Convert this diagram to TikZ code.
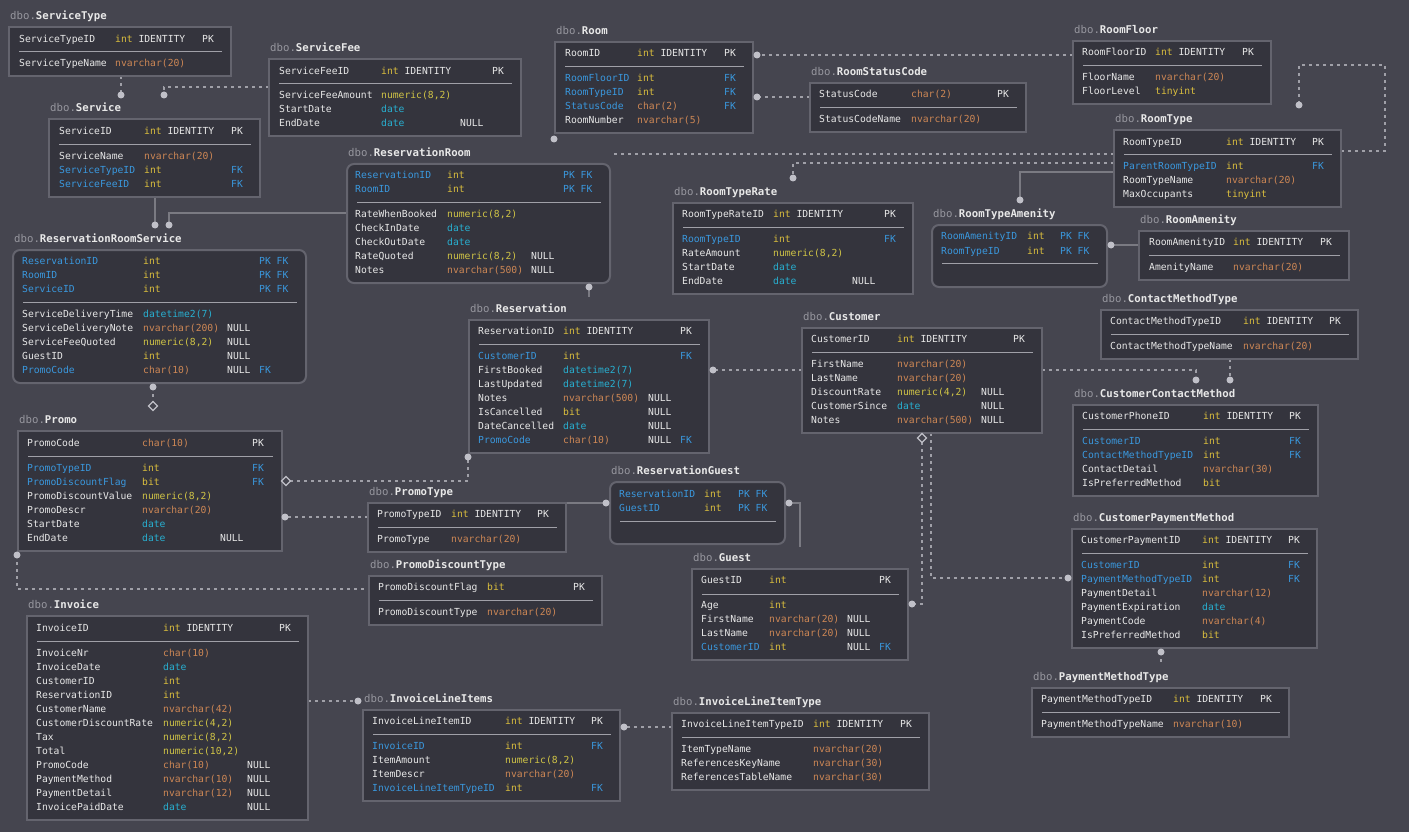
\documentclass[tikz,border=0pt]{standalone}
\usepackage{fontspec}
\usetikzlibrary{fit}
\newfontfamily\monofnt{DejaVu Sans Mono}

\definecolor{bg}{RGB}{69,69,79}
\definecolor{tfill}{RGB}{52,52,61}
\definecolor{tborder}{RGB}{100,100,110}
\definecolor{sepc}{RGB}{160,160,168}
\definecolor{txt}{RGB}{232,232,232}
\definecolor{dbo}{RGB}{150,150,158}
\definecolor{fk}{RGB}{58,152,222}
\definecolor{ylw}{RGB}{218,190,62}
\definecolor{num}{RGB}{208,196,70}
\definecolor{orn}{RGB}{205,135,85}
\definecolor{cyn}{RGB}{40,175,208}
\definecolor{dlink}{RGB}{160,160,168}
\definecolor{slink}{RGB}{122,122,130}
\definecolor{dotc}{RGB}{192,192,200}

% cell counter for automatic node names
\newcounter{cellno}
\newcommand\cellat[4]{\stepcounter{cellno}\edef\cname{cell\arabic{cellno}}%
  \node[cell,text=#3] (\cname) at (#1,#2) {#4};}
% column positions of the current table
\newcommand\cols[4]{\def\cA{#1}\def\cB{#2}\def\cC{#3}\def\cD{#4}}
% one field: y, name colour, name, type colour, type, null, key
\newcommand\fld[7]{%
  \cellat{\cA}{#1}{#2}{#3}%
  \cellat{\cB}{#1}{#4}{#5}%
  \if\relax\detokenize{#6}\relax\else\cellat{\cC}{#1}{txt}{#6}\fi
  \if\relax\detokenize{#7}\relax\else\cellat{\cD}{#1}{txt}{#7}\fi}
% table frame: name, left, top, right, bottom, shape, title, separator y
\newcommand\tbl[8]{%
  \node[tbox,#6,fit={(#2,#3) (#4,#5)}] (#1) {};
  \node[ttl] (#1-title) at (#2+1,#3-11) {\textcolor{dbo}{dbo.}\textbf{#7}};
  \draw[sepline] (#2+10,#8) -- (#4-9,#8);}
\newcommand\intid{int \textcolor{txt}{IDENTITY}}
\newcommand\kfk{\textcolor{fk}{FK}}
\newcommand\kpf{\textcolor{fk}{PK FK}}
\newcommand\jdot[1]{\fill[dotc] (#1) circle[radius=3.5pt];}
\newcommand\diam[1]{\draw[draw=dotc,line width=1.2pt,fill=bg]
  ([shift={(-4.5,0)}]#1) -- ([shift={(0,-4.5)}]#1) -- ([shift={(4.5,0)}]#1)
  -- ([shift={(0,4.5)}]#1) -- cycle;}

\begin{document}
\begin{tikzpicture}[x=1pt,y=-1pt,
  cell/.style={anchor=west,inner sep=0pt,text height=7pt,text depth=0pt,
    font=\monofnt\fontsize{9.7}{11}\selectfont},
  ttl/.style={anchor=west,inner sep=0pt,text height=7.8pt,text depth=0pt,
    font=\monofnt\fontsize{10.7}{12}\selectfont,text=txt},
  tbox/.style={draw=tborder,fill=tfill,line width=2pt,inner sep=0pt},
  junction/.style={rounded corners=7pt},
  plain/.style={},
  sepline/.style={draw=sepc,line width=0.9pt},
  optlink/.style={draw=dlink,line width=2pt,dash pattern=on 3pt off 4pt},
  reqlink/.style={draw=slink,line width=2pt},
]
\useasboundingbox (0,0) rectangle (1409,832);
\fill[bg] (0,0) rectangle (1409,832);

% ---------- connector end points ----------
\coordinate (st-s) at (121,76);    \coordinate (sv-n1) at (121,95);
\coordinate (sf-w) at (269,87);    \coordinate (sv-n2) at (164,95);
\coordinate (sv-s) at (155,197);   \coordinate (rrs-n1) at (155,225);
\coordinate (rr-w) at (347,213);   \coordinate (rrs-n2) at (169,225);
\coordinate (rm-sw) at (554,139);
\coordinate (rt-w1) at (1114,154); \coordinate (rtl-end) at (612,154);
\coordinate (rt-w2) at (1114,163); \coordinate (rtr-n) at (793,178);
\coordinate (rt-e) at (1341,151);  \coordinate (rt-loop) at (1385,65);
\coordinate (rt-n) at (1299,105);
\coordinate (rm-e1) at (757,55);   \coordinate (rf-w) at (1073,55);
\coordinate (rm-e2) at (757,97);   \coordinate (rsc-w) at (810,97);
\coordinate (rt-w3) at (1114,172); \coordinate (rta-n) at (1020,200);
\coordinate (ra-w) at (1139,245);  \coordinate (rta-e) at (1111,245);
\coordinate (rr-s) at (589,287);   \coordinate (res-n) at (589,297);
\coordinate (res-e) at (713,370);  \coordinate (cu-w) at (802,370);
\coordinate (cu-e) at (1042,370);  \coordinate (ccm-n1) at (1196,380);
\coordinate (cmt-s) at (1230,359); \coordinate (ccm-n2) at (1230,380);
\coordinate (cu-s1) at (931,433);  \coordinate (cpm-w) at (1068,578);
\coordinate (cu-d) at (922,438);   \coordinate (cu-s2) at (922,442);
\coordinate (gu-e) at (912,604);
\coordinate (cpm-s) at (1161,652); \coordinate (pmt-n) at (1161,665);
\coordinate (pt-ne) at (566,503);  \coordinate (rg-w) at (606,503);
\coordinate (rg-e) at (789,503);   \coordinate (gu-n) at (800,547);
\coordinate (pr-d) at (286,481);   \coordinate (pr-e1) at (290,481);
\coordinate (res-sw) at (468,457);
\coordinate (pr-e2) at (285,517);  \coordinate (pt-w) at (368,517);
\coordinate (pr-sw) at (17,555);   \coordinate (pdt-w) at (369,589);
\coordinate (rrs-s) at (153,387);  \coordinate (pr-n) at (153,402);
\coordinate (pr-nd) at (153,406);
\coordinate (inv-e) at (308,701);  \coordinate (ili-t) at (358,701);
\coordinate (ili-e) at (624,727);  \coordinate (ilit-w) at (672,727);

% ---------- connectors ----------
\draw[optlink] (st-s) -- (sv-n1);
\draw[optlink] (sf-w) -| (sv-n2);
\draw[reqlink] (sv-s) -- (rrs-n1);
\draw[reqlink] (rr-w) -| (rrs-n2);
\draw[optlink] (rt-w1) -- (rtl-end);
\draw[optlink] (rt-w2) -| (rtr-n);
\draw[optlink] (rt-e) -| (rt-loop) -| (rt-n);
\draw[optlink] (rf-w) -- (rm-e1);
\draw[optlink] (rsc-w) -- (rm-e2);
\draw[reqlink] (rt-w3) -| (rta-n);
\draw[reqlink] (ra-w) -- (rta-e);
\draw[reqlink] (rr-s) -- (res-n);
\draw[optlink] (cu-w) -- (res-e);
\draw[optlink] (cu-e) -| (ccm-n1);
\draw[optlink] (cmt-s) -- (ccm-n2);
\draw[optlink] (cu-s1) |- (cpm-w);
\draw[optlink] (cu-s2) |- (gu-e);
\draw[optlink] (cpm-s) -- (pmt-n);
\draw[reqlink] (pt-ne) -- (rg-w);
\draw[reqlink] (rg-e) -| (gu-n);
\draw[optlink] (pr-e1) -| (res-sw);
\draw[optlink] (pt-w) -- (pr-e2);
\draw[optlink] (pr-sw) |- (pdt-w);
\draw[optlink] (rrs-s) -- (pr-n);
\draw[optlink] (inv-e) -- (ili-t);
\draw[optlink] (ilit-w) -- (ili-e);

% ---------- tables ----------
\tbl{servicetype}{9}{27}{231}{76}{plain}{ServiceType}{51}
\cols{19}{115}{0}{202}
\fld{39}{txt}{ServiceTypeID}{ylw}{\intid}{}{PK}
\fld{63}{txt}{ServiceTypeName}{orn}{nvarchar(20)}{}{}

\tbl{servicefee}{269}{59}{521}{136}{plain}{ServiceFee}{83}
\cols{279}{381}{460}{492}
\fld{71}{txt}{ServiceFeeID}{ylw}{\intid}{}{PK}
\fld{95}{txt}{ServiceFeeAmount}{num}{numeric(8,2)}{}{}
\fld{109}{txt}{StartDate}{cyn}{date}{}{}
\fld{123}{txt}{EndDate}{cyn}{date}{NULL}{}

\tbl{service}{49}{119}{260}{197}{plain}{Service}{144}
\cols{59}{144}{0}{231}
\fld{131}{txt}{ServiceID}{ylw}{\intid}{}{PK}
\fld{156}{txt}{ServiceName}{orn}{nvarchar(20)}{}{}
\fld{170}{fk}{ServiceTypeID}{ylw}{int}{}{\kfk}
\fld{184}{fk}{ServiceFeeID}{ylw}{int}{}{\kfk}

\tbl{resroomservice}{13}{250}{306}{383}{junction}{ReservationRoomService}{302}
\cols{22}{143}{227}{259}
\fld{261}{fk}{ReservationID}{ylw}{int}{}{\kpf}
\fld{275}{fk}{RoomID}{ylw}{int}{}{\kpf}
\fld{289}{fk}{ServiceID}{ylw}{int}{}{\kpf}
\fld{314}{txt}{ServiceDeliveryTime}{cyn}{datetime2(7)}{}{}
\fld{328}{txt}{ServiceDeliveryNote}{orn}{nvarchar(200)}{NULL}{}
\fld{342}{txt}{ServiceFeeQuoted}{num}{numeric(8,2)}{NULL}{}
\fld{356}{txt}{GuestID}{ylw}{int}{NULL}{}
\fld{370}{fk}{PromoCode}{orn}{char(10)}{NULL}{\kfk}

\tbl{promo}{18}{431}{282}{551}{plain}{Promo}{456}
\cols{27}{142}{220}{252}
\fld{443}{txt}{PromoCode}{orn}{char(10)}{}{PK}
\fld{468}{fk}{PromoTypeID}{ylw}{int}{}{\kfk}
\fld{482}{fk}{PromoDiscountFlag}{ylw}{bit}{}{\kfk}
\fld{496}{txt}{PromoDiscountValue}{num}{numeric(8,2)}{}{}
\fld{510}{txt}{PromoDescr}{orn}{nvarchar(20)}{}{}
\fld{524}{txt}{StartDate}{cyn}{date}{}{}
\fld{538}{txt}{EndDate}{cyn}{date}{NULL}{}

\tbl{reservationroom}{347}{164}{610}{283}{junction}{ReservationRoom}{202}
\cols{355}{447}{531}{563}
\fld{175}{fk}{ReservationID}{ylw}{int}{}{\kpf}
\fld{189}{fk}{RoomID}{ylw}{int}{}{\kpf}
\fld{214}{txt}{RateWhenBooked}{num}{numeric(8,2)}{}{}
\fld{228}{txt}{CheckInDate}{cyn}{date}{}{}
\fld{242}{txt}{CheckOutDate}{cyn}{date}{}{}
\fld{256}{txt}{RateQuoted}{num}{numeric(8,2)}{NULL}{}
\fld{270}{txt}{Notes}{orn}{nvarchar(500)}{NULL}{}

\tbl{room}{555}{42}{753}{133}{plain}{Room}{66}
\cols{565}{637}{0}{724}
\fld{53}{txt}{RoomID}{ylw}{\intid}{}{PK}
\fld{78}{fk}{RoomFloorID}{ylw}{int}{}{\kfk}
\fld{92}{fk}{RoomTypeID}{ylw}{int}{}{\kfk}
\fld{106}{fk}{StatusCode}{orn}{char(2)}{}{\kfk}
\fld{120}{txt}{RoomNumber}{orn}{nvarchar(5)}{}{}

\tbl{roomstatuscode}{810}{83}{1026}{132}{plain}{RoomStatusCode}{107}
\cols{819}{911}{0}{997}
\fld{94}{txt}{StatusCode}{orn}{char(2)}{}{PK}
\fld{119}{txt}{StatusCodeName}{orn}{nvarchar(20)}{}{}

\tbl{roomfloor}{1073}{41}{1271}{104}{plain}{RoomFloor}{65}
\cols{1082}{1155}{0}{1242}
\fld{52}{txt}{RoomFloorID}{ylw}{\intid}{}{PK}
\fld{77}{txt}{FloorName}{orn}{nvarchar(20)}{}{}
\fld{91}{txt}{FloorLevel}{ylw}{tinyint}{}{}

\tbl{roomtype}{1114}{130}{1341}{207}{plain}{RoomType}{154}
\cols{1123}{1226}{0}{1312}
\fld{142}{txt}{RoomTypeID}{ylw}{\intid}{}{PK}
\fld{166}{fk}{ParentRoomTypeID}{ylw}{int}{}{\kfk}
\fld{180}{txt}{RoomTypeName}{orn}{nvarchar(20)}{}{}
\fld{194}{txt}{MaxOccupants}{ylw}{tinyint}{}{}

\tbl{roomtyperate}{673}{203}{913}{294}{plain}{RoomTypeRate}{227}
\cols{682}{773}{852}{884}
\fld{214}{txt}{RoomTypeRateID}{ylw}{\intid}{}{PK}
\fld{239}{fk}{RoomTypeID}{ylw}{int}{}{\kfk}
\fld{253}{txt}{RateAmount}{num}{numeric(8,2)}{}{}
\fld{267}{txt}{StartDate}{cyn}{date}{}{}
\fld{281}{txt}{EndDate}{cyn}{date}{NULL}{}

\tbl{roomtypeamenity}{932}{225}{1107}{287}{junction}{RoomTypeAmenity}{263}
\cols{941}{1027}{0}{1060}
\fld{236.5}{fk}{RoomAmenityID}{ylw}{int}{}{\kpf}
\fld{250.5}{fk}{RoomTypeID}{ylw}{int}{}{\kpf}

\tbl{roomamenity}{1139}{231}{1349}{280}{plain}{RoomAmenity}{255}
\cols{1149}{1233}{0}{1320}
\fld{242}{txt}{RoomAmenityID}{ylw}{\intid}{}{PK}
\fld{267}{txt}{AmenityName}{orn}{nvarchar(20)}{}{}

\tbl{contactmethodtype}{1101}{310}{1358}{359}{plain}{ContactMethodType}{334}
\cols{1110}{1243}{0}{1329}
\fld{321}{txt}{ContactMethodTypeID}{ylw}{\intid}{}{PK}
\fld{346}{txt}{ContactMethodTypeName}{orn}{nvarchar(20)}{}{}

\tbl{customercontact}{1073}{405}{1318}{496}{plain}{CustomerContactMethod}{429}
\cols{1082}{1203}{0}{1289}
\fld{416}{txt}{CustomerPhoneID}{ylw}{\intid}{}{PK}
\fld{441}{fk}{CustomerID}{ylw}{int}{}{\kfk}
\fld{455}{fk}{ContactMethodTypeID}{ylw}{int}{}{\kfk}
\fld{469}{txt}{ContactDetail}{orn}{nvarchar(30)}{}{}
\fld{483}{txt}{IsPreferredMethod}{ylw}{bit}{}{}

\tbl{customerpayment}{1072}{529}{1317}{648}{plain}{CustomerPaymentMethod}{553}
\cols{1081}{1202}{0}{1288}
\fld{540}{txt}{CustomerPaymentID}{ylw}{\intid}{}{PK}
\fld{565}{fk}{CustomerID}{ylw}{int}{}{\kfk}
\fld{579}{fk}{PaymentMethodTypeID}{ylw}{int}{}{\kfk}
\fld{593}{txt}{PaymentDetail}{orn}{nvarchar(12)}{}{}
\fld{607}{txt}{PaymentExpiration}{cyn}{date}{}{}
\fld{621}{txt}{PaymentCode}{orn}{nvarchar(4)}{}{}
\fld{635}{txt}{IsPreferredMethod}{ylw}{bit}{}{}

\tbl{paymentmethodtype}{1032}{688}{1289}{737}{plain}{PaymentMethodType}{712}
\cols{1041}{1173}{0}{1260}
\fld{699}{txt}{PaymentMethodTypeID}{ylw}{\intid}{}{PK}
\fld{724}{txt}{PaymentMethodTypeName}{orn}{nvarchar(10)}{}{}

\tbl{customer}{802}{328}{1042}{433}{plain}{Customer}{352}
\cols{811}{897}{981}{1013}
\fld{339}{txt}{CustomerID}{ylw}{\intid}{}{PK}
\fld{364}{txt}{FirstName}{orn}{nvarchar(20)}{}{}
\fld{378}{txt}{LastName}{orn}{nvarchar(20)}{}{}
\fld{392}{txt}{DiscountRate}{num}{numeric(4,2)}{NULL}{}
\fld{406}{txt}{CustomerSince}{cyn}{date}{NULL}{}
\fld{420}{txt}{Notes}{orn}{nvarchar(500)}{NULL}{}

\tbl{reservation}{469}{320}{709}{453}{plain}{Reservation}{344}
\cols{478}{563}{648}{680}
\fld{331}{txt}{ReservationID}{ylw}{\intid}{}{PK}
\fld{356}{fk}{CustomerID}{ylw}{int}{}{\kfk}
\fld{370}{txt}{FirstBooked}{cyn}{datetime2(7)}{}{}
\fld{384}{txt}{LastUpdated}{cyn}{datetime2(7)}{}{}
\fld{398}{txt}{Notes}{orn}{nvarchar(500)}{NULL}{}
\fld{412}{txt}{IsCancelled}{ylw}{bit}{NULL}{}
\fld{426}{txt}{DateCancelled}{cyn}{date}{NULL}{}
\fld{440}{fk}{PromoCode}{orn}{char(10)}{NULL}{\kfk}

\tbl{reservationguest}{610}{482}{785}{544}{junction}{ReservationGuest}{521}
\cols{619}{704}{0}{738}
\fld{494}{fk}{ReservationID}{ylw}{int}{}{\kpf}
\fld{508}{fk}{GuestID}{ylw}{int}{}{\kpf}

\tbl{promotype}{368}{503}{566}{552}{plain}{PromoType}{527}
\cols{377}{451}{0}{537}
\fld{514}{txt}{PromoTypeID}{ylw}{\intid}{}{PK}
\fld{539}{txt}{PromoType}{orn}{nvarchar(20)}{}{}

\tbl{promodiscounttype}{369}{576}{602}{625}{plain}{PromoDiscountType}{600}
\cols{378}{487}{0}{573}
\fld{587}{txt}{PromoDiscountFlag}{ylw}{bit}{}{PK}
\fld{612}{txt}{PromoDiscountType}{orn}{nvarchar(20)}{}{}

\tbl{guest}{692}{569}{908}{660}{plain}{Guest}{594}
\cols{701}{769}{847}{879}
\fld{580}{txt}{GuestID}{ylw}{int}{}{PK}
\fld{605}{txt}{Age}{ylw}{int}{}{}
\fld{619}{txt}{FirstName}{orn}{nvarchar(20)}{NULL}{}
\fld{633}{txt}{LastName}{orn}{nvarchar(20)}{NULL}{}
\fld{647}{fk}{CustomerID}{ylw}{int}{NULL}{\kfk}

\tbl{invoice}{27}{616}{308}{820}{plain}{Invoice}{641}
\cols{36}{163}{247}{279}
\fld{628}{txt}{InvoiceID}{ylw}{\intid}{}{PK}
\fld{653}{txt}{InvoiceNr}{orn}{char(10)}{}{}
\fld{667}{txt}{InvoiceDate}{cyn}{date}{}{}
\fld{681}{txt}{CustomerID}{ylw}{int}{}{}
\fld{695}{txt}{ReservationID}{ylw}{int}{}{}
\fld{709}{txt}{CustomerName}{orn}{nvarchar(42)}{}{}
\fld{723}{txt}{CustomerDiscountRate}{num}{numeric(4,2)}{}{}
\fld{737}{txt}{Tax}{num}{numeric(8,2)}{}{}
\fld{751}{txt}{Total}{num}{numeric(10,2)}{}{}
\fld{765}{txt}{PromoCode}{orn}{char(10)}{NULL}{}
\fld{779}{txt}{PaymentMethod}{orn}{nvarchar(10)}{NULL}{}
\fld{793}{txt}{PaymentDetail}{orn}{nvarchar(12)}{NULL}{}
\fld{807}{txt}{InvoicePaidDate}{cyn}{date}{NULL}{}

\tbl{invoicelineitems}{363}{710}{620}{801}{plain}{InvoiceLineItems}{734}
\cols{372}{505}{0}{591}
\fld{721}{txt}{InvoiceLineItemID}{ylw}{\intid}{}{PK}
\fld{746}{fk}{InvoiceID}{ylw}{int}{}{\kfk}
\fld{760}{txt}{ItemAmount}{num}{numeric(8,2)}{}{}
\fld{774}{txt}{ItemDescr}{orn}{nvarchar(20)}{}{}
\fld{788}{fk}{InvoiceLineItemTypeID}{ylw}{int}{}{\kfk}

\tbl{invoicelineitemtype}{672}{713}{929}{790}{plain}{InvoiceLineItemType}{737}
\cols{681}{813}{0}{900}
\fld{724}{txt}{InvoiceLineItemTypeID}{ylw}{\intid}{}{PK}
\fld{749}{txt}{ItemTypeName}{orn}{nvarchar(20)}{}{}
\fld{763}{txt}{ReferencesKeyName}{orn}{nvarchar(30)}{}{}
\fld{777}{txt}{ReferencesTableName}{orn}{nvarchar(30)}{}{}

% ---------- connector ends ----------
\jdot{sv-n1} \jdot{sv-n2} \jdot{rrs-n1} \jdot{rrs-n2} \jdot{rm-sw}
\jdot{rtr-n} \jdot{rt-n} \jdot{rm-e1} \jdot{rm-e2} \jdot{rta-n} \jdot{rta-e}
\jdot{rr-s} \jdot{res-e} \jdot{ccm-n1} \jdot{ccm-n2} \jdot{cpm-w} \jdot{gu-e}
\jdot{cpm-s} \jdot{rg-w} \jdot{rg-e} \jdot{res-sw} \jdot{pr-e2} \jdot{pr-sw}
\jdot{rrs-s} \jdot{ili-t} \jdot{ili-e}
\diam{cu-d} \diam{pr-d} \diam{pr-nd}
\end{tikzpicture}
\end{document}
